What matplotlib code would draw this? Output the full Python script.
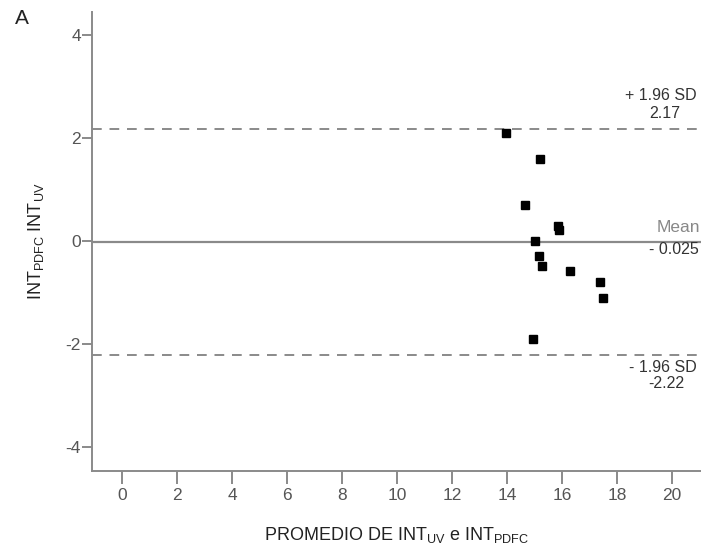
import matplotlib.pyplot as plt

plt.rcParams['font.family'] = ['Liberation Sans', 'DejaVu Sans']
plt.rcParams['axes.unicode_minus'] = False

# Bland-Altman data
promedio = [13.95, 15.2, 14.65, 15.85, 15.9, 15.0, 15.15, 15.25, 16.27, 17.38, 17.5, 14.93]
diferencia = [2.1, 1.6, 0.7, 0.3, 0.22, 0.0, -0.29, -0.49, -0.59, -0.79, -1.1, -1.9]
media = -0.025
sup = 2.17
inf = -2.22
x_ticks = [0, 2, 4, 6, 8, 10, 12, 14, 16, 18, 20]
y_ticks = [-4, -2, 0, 2, 4]

gris = '#8a8a8a'
texto = '#555555'
W, H = 701, 553

fig = plt.figure(figsize=(7.01, 5.53), dpi=100)
ax = fig.add_axes([92 / W, 1 - 471 / H, 1 - 92 / W, (471 - 12) / H])

ax.axhline(media, color=gris, lw=1.6)
ax.axhline(sup, color=gris, lw=1.4, ls=(0, (5, 4)))
ax.axhline(inf, color=gris, lw=1.4, ls=(0, (5, 4)))
ax.plot(promedio, diferencia, 's', color='black', ms=5.5, ls='none')

ax.set_xlim(-1.1, 21.05)
ax.set_ylim(-4.47, 4.45)
ax.set_xticks(x_ticks)
ax.set_yticks(y_ticks)

for s in ['top', 'right']:
    ax.spines[s].set_visible(False)
for s in ['left', 'bottom']:
    ax.spines[s].set_color(gris)
    ax.spines[s].set_linewidth(1.4)

ax.tick_params(axis='x', length=9, width=1.4, color=gris, labelcolor=texto, labelsize=12.5, pad=3)
ax.tick_params(axis='y', length=7, width=1.4, color=gris, labelcolor=texto, labelsize=12.5, pad=1)

ax.set_xlabel('PROMEDIO DE INT$_{\\mathregular{UV}}$ e INT$_{\\mathregular{PDFC}}$',
              fontsize=13, color='#222222', labelpad=16)
ax.set_ylabel('INT$_{\\mathregular{PDFC}}$ INT$_{\\mathregular{UV}}$',
              fontsize=13, color='#222222', labelpad=14)


def etiqueta(px, py, s, size=11.5, color='#333333'):
    fig.text(px / W, 1 - py / H, s, ha='right', va='center', fontsize=size, color=color)


etiqueta(697, 96, '+ 1.96 SD')
etiqueta(680, 113, '2.17')
etiqueta(700, 228, 'Mean', size=12.5, color='#888888')
etiqueta(699, 249, '- 0.025')
etiqueta(697, 368, '- 1.96 SD')
etiqueta(684, 384, '-2.22')

fig.text(22 / W, 1 - 18 / H, 'A', fontsize=15, ha='center', va='center', color='#222222')

fig.savefig('out.png', dpi=100)
